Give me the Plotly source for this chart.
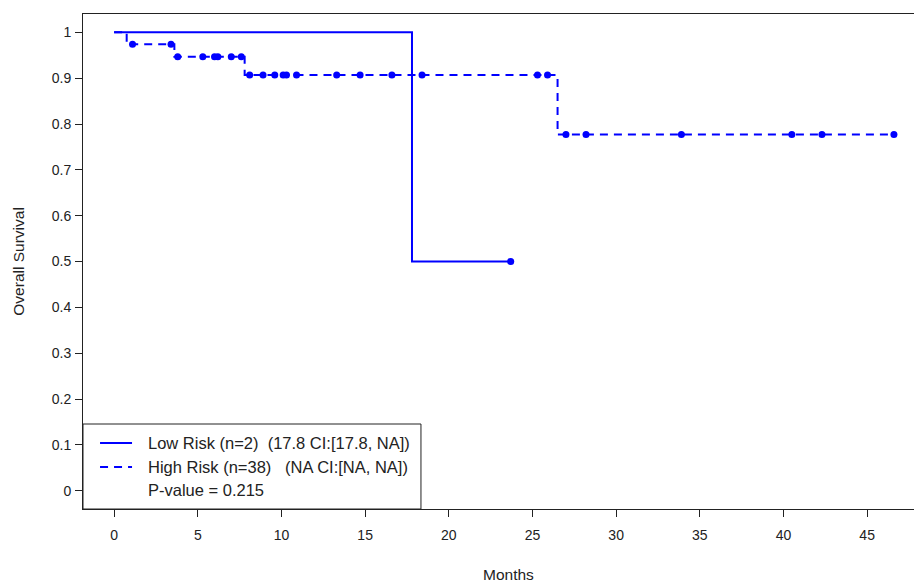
import plotly.graph_objects as go
import numpy as np

# ---- data ----
low_times = [0, 17.8, 23.7]
low_surv = [1.0, 0.5, 0.5]
low_censor = [23.7]

high_times = [0, 0.75, 3.6, 7.8, 26.5, 46.6]
high_surv = [1.0, 0.974, 0.947, 0.907, 0.777, 0.777]
high_censor = [1.1, 3.4, 3.8, 5.3, 6.0, 6.2, 7.0, 7.6,
               8.1, 8.9, 9.6, 10.1, 10.3, 10.9, 13.3, 14.7, 16.6, 18.4, 25.3, 25.9,
               27.0, 28.2, 33.9, 40.5, 42.3, 46.6]

x_ticks = [0, 5, 10, 15, 20, 25, 30, 35, 40, 45]
y_ticks = [0, 0.1, 0.2, 0.3, 0.4, 0.5, 0.6, 0.7, 0.8, 0.9, 1]
y_tick_labels = ["0", "0.1", "0.2", "0.3", "0.4", "0.5", "0.6", "0.7", "0.8", "0.9", "1"]

legend_lines = ["Low Risk (n=2)  (17.8 CI:[17.8, NA])",
                "High Risk (n=38)   (NA CI:[NA, NA])",
                "P-value = 0.215"]


def step_lookup(times, surv, t):
    idx = np.searchsorted(times, t, side="right") - 1
    return [surv[i] for i in idx]


BLUE = "#0000FF"
FONT = "Liberation Sans, Arial, sans-serif"

fig = go.Figure()
fig.add_trace(go.Scatter(x=low_times, y=low_surv, mode="lines", line_shape="hv",
                         line=dict(color=BLUE, width=2), showlegend=False))
fig.add_trace(go.Scatter(x=low_censor, y=step_lookup(low_times, low_surv, low_censor),
                         mode="markers", marker=dict(color=BLUE, size=7, symbol="circle"),
                         showlegend=False))
fig.add_trace(go.Scatter(x=high_times, y=high_surv, mode="lines", line_shape="hv",
                         line=dict(color=BLUE, width=2, dash="8px,6px"), showlegend=False))
fig.add_trace(go.Scatter(x=high_censor, y=step_lookup(high_times, high_surv, high_censor),
                         mode="markers", marker=dict(color=BLUE, size=7, symbol="circle"),
                         showlegend=False))

AX = "#222222"
fig.update_layout(
    width=914, height=583,
    margin=dict(l=83, r=0, t=14, b=74),
    paper_bgcolor="white", plot_bgcolor="white",
    font=dict(family=FONT, size=14, color="#222222"),
    xaxis=dict(range=[-1.86, 47.8], tickvals=x_ticks, ticks="outside", ticklen=7,
               tickcolor=AX, showline=True, linecolor=AX, linewidth=1, mirror=True,
               showgrid=False, zeroline=False, tickfont=dict(size=14),
               ticklabelstandoff=6),
    yaxis=dict(range=[-0.04, 1.04], tickvals=y_ticks, ticktext=y_tick_labels,
               ticks="outside", ticklen=7, tickcolor=AX, showline=True, linecolor=AX,
               linewidth=1, mirror=False, showgrid=False, zeroline=False,
               tickfont=dict(size=14), ticklabelstandoff=1),
    shapes=[
        dict(type="rect", xref="paper", yref="paper", x0=0, x1=0.4067, y0=0, y1=0.1717,
             line=dict(color=AX, width=1), fillcolor="white", layer="above"),
        dict(type="line", xref="paper", yref="paper", x0=0.0205, x1=0.059, y0=0.1333, y1=0.1333,
             line=dict(color=BLUE, width=2), layer="above"),
        dict(type="line", xref="paper", yref="paper", x0=0.0205, x1=0.059, y0=0.0848, y1=0.0848,
             line=dict(color=BLUE, width=2, dash="8px,6px"), layer="above"),
    ],
    annotations=[
        dict(text=legend_lines[0], xref="paper", yref="paper", x=0.076, y=0.1333,
             xanchor="left", yanchor="middle", showarrow=False, font=dict(size=16.5)),
        dict(text=legend_lines[1], xref="paper", yref="paper", x=0.076, y=0.0848,
             xanchor="left", yanchor="middle", showarrow=False, font=dict(size=16.5)),
        dict(text=legend_lines[2], xref="paper", yref="paper", x=0.076, y=0.0384,
             xanchor="left", yanchor="middle", showarrow=False, font=dict(size=16.5)),
        dict(text="Months", xref="paper", yref="paper", x=0.512, y=-0.133,
             xanchor="center", yanchor="middle", showarrow=False, font=dict(size=15.5)),
        dict(text="Overall Survival", xref="paper", yref="paper", x=-0.078, y=0.5,
             xanchor="center", yanchor="middle", showarrow=False, textangle=-90,
             font=dict(size=15.5)),
    ],
)

fig.write_html("out.html")
